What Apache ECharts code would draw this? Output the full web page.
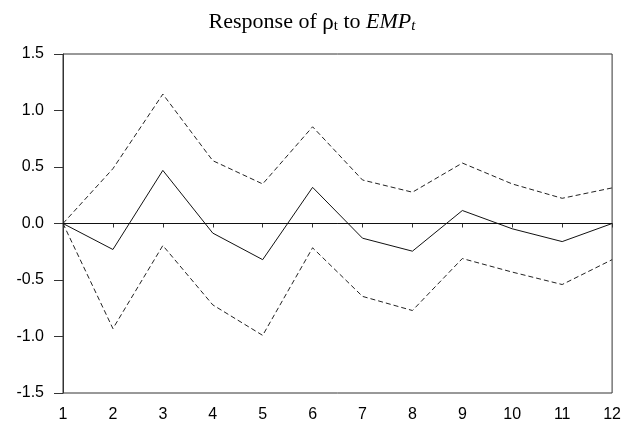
<!DOCTYPE html>
<html>
<head>
<meta charset="utf-8">
<script src="https://cdn.jsdelivr.net/npm/echarts@6/dist/echarts.min.js"></script>
<style>html,body{margin:0;padding:0;background:#fff}#c{width:624px;height:429px}</style>
</head>
<body>
<div id="c"></div>
<script>
var periods = [1,2,3,4,5,6,7,8,9,10,11,12];
var response = [0, -0.23, 0.47, -0.085, -0.32, 0.32, -0.13, -0.245, 0.115, -0.047, -0.16, 0];
var upperBand = [0, 0.485, 1.145, 0.556, 0.35, 0.856, 0.385, 0.277, 0.535, 0.35, 0.223, 0.315];
var lowerBand = [0, -0.93, -0.195, -0.72, -0.99, -0.215, -0.645, -0.77, -0.31, -0.43, -0.54, -0.32];
var yTicks = [-1.5, -1.0, -0.5, 0.0, 0.5, 1.0, 1.5];

function pairs(vals){ return periods.map(function(p,i){ return [p, vals[i]]; }); }

var chart = echarts.init(document.getElementById('c'), null, {renderer:'canvas'});
chart.setOption({
  animation: false,
  backgroundColor: '#ffffff',
  title: {
    text: 'Response of {rho|ρ}{sub|t} to {it|EMP}{itsub|t}',
    left: 'center', top: 6,
    textStyle: {
      fontFamily: 'Liberation Serif', fontSize: 22, color: '#000', fontWeight: 'normal',
      rich: {
        rho: {fontFamily: 'Liberation Serif', fontSize: 23, color: '#000'},
        sub: {fontFamily: 'Liberation Serif', fontSize: 15, color: '#000', verticalAlign: 'bottom', padding:[7,0,0,0]},
        it: {fontFamily: 'Liberation Serif', fontSize: 22, fontStyle: 'italic', color: '#000'},
        itsub: {fontFamily: 'Liberation Serif', fontSize: 15, fontStyle: 'italic', color: '#000', verticalAlign: 'bottom', padding:[7,0,0,0]}
      }
    }
  },
  grid: {left: 63, right: 11, top: 54, bottom: 36, show: true, borderColor: '#333', borderWidth: 1, backgroundColor: '#fff'},
  xAxis: {
    type: 'value', min: 1, max: 12, interval: 1,
    axisLine: {show: true, lineStyle: {color: '#333'}},
    axisTick: {show: true, length: 4, inside: false, lineStyle: {color: '#333'}},
    axisLabel: {color: '#000', fontFamily: 'Liberation Sans', fontSize: 16, margin: 14},
    splitLine: {show: false}
  },
  yAxis: {
    type: 'value', min: yTicks[0], max: yTicks[yTicks.length-1], interval: 0.5,
    axisLine: {show: true, lineStyle: {color: '#333'}},
    axisTick: {show: true, length: 9, lineStyle: {color: '#333'}},
    axisLabel: {color: '#000', fontFamily: 'Liberation Sans', fontSize: 16, margin: 19,
      formatter: function(v){ return v.toFixed(1); }},
    splitLine: {show: false}
  },
  series: [
    {type: 'line', data: pairs(response), symbol: 'none', lineStyle: {color: '#111', width: 1},
      markLine: {silent: true, symbol: ['none','none'], label: {show: false},
        lineStyle: {color: '#111', width: 1, type: 'solid'}, data: [{yAxis: 0}]}},
    {type: 'line', data: pairs(upperBand), symbol: 'none', lineStyle: {color: '#222', width: 1, type: [5,3]}},
    {type: 'line', data: pairs(lowerBand), symbol: 'none', lineStyle: {color: '#222', width: 1, type: [5,3]}}
  ]
});
</script>
</body>
</html>
